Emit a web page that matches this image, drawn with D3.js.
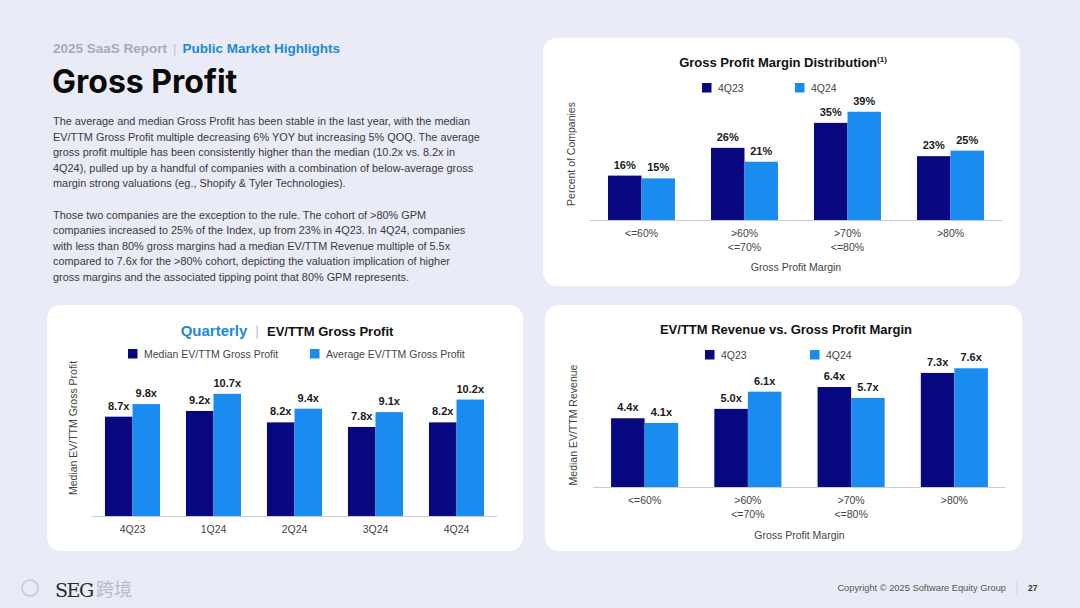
<!DOCTYPE html>
<html>
<head>
<meta charset="utf-8">
<script src="https://d3js.org/d3.v7.min.js"></script>
<style>
  body { margin: 0; background: #e9ebf6; }
  svg { display: block; font-family: "Liberation Sans", Arial, sans-serif; }
</style>
</head>
<body>
<script>
// ---- data ----
var marginCats = [["<=60%"], [">60%", "<=70%"], [">70%", "<=80%"], [">80%"]];
var distSeries = ["4Q23", "4Q24"];
var dist4Q23 = [16, 26, 35, 23];
var dist4Q24 = [15, 21, 39, 25];

var quarters = ["4Q23", "1Q24", "2Q24", "3Q24", "4Q24"];
var gpSeries = ["Median EV/TTM Gross Profit", "Average EV/TTM Gross Profit"];
var gpMedian = [8.7, 9.2, 8.2, 7.8, 8.2];
var gpAverage = [9.8, 10.7, 9.4, 9.1, 10.2];

var rev4Q23 = [4.4, 5.0, 6.4, 7.3];
var rev4Q24 = [4.1, 6.1, 5.7, 7.6];

var DARK = "#07077f", LIGHT = "#1b8cef";

var svg = d3.select("body").append("svg")
    .attr("width", 1080)
    .attr("height", 608)

svg.append("rect").attr("width", 1080).attr("height", 608).attr("fill", "#e9ebf6")

// ---- left text ----
var head = svg.append("text").attr("x", 53).attr("y", 53)
    .attr("font-size", 13.5).attr("font-weight", "bold")
head.append("tspan").attr("fill", "#a3abc0").text("2025 SaaS Report")
head.append("tspan").attr("fill", "#c3c8d8").attr("font-weight", "normal").attr("dx", 6).text("|")
head.append("tspan").attr("fill", "#1e88d8").attr("dx", 6).text("Public Market Highlights")

svg.append("text").attr("x", 52).attr("y", 93)
    .attr("font-size", 32).attr("font-weight", "bold").attr("fill", "#0b0b0b")
    .attr("font-family", "Inter, 'Liberation Sans', sans-serif")
    .text("Gross Profit")

var para = [
  "The average and median Gross Profit has been stable in the last year, with the median",
  "EV/TTM Gross Profit multiple decreasing 6% YOY but increasing 5% QOQ. The average",
  "gross profit multiple has been consistently higher than the median (10.2x vs. 8.2x in",
  "4Q24), pulled up by a handful of companies with a combination of below-average gross",
  "margin strong valuations (eg., Shopify & Tyler Technologies).",
  "",
  "Those two companies are the exception to the rule. The cohort of >80% GPM",
  "companies increased to 25% of the Index, up from 23% in 4Q23. In 4Q24, companies",
  "with less than 80% gross margins had a median EV/TTM Revenue multiple of 5.5x",
  "compared to 7.6x for the >80% cohort, depicting the valuation implication of higher",
  "gross margins and the associated tipping point that 80% GPM represents."
];
svg.selectAll("text.para").data(para).enter().append("text")
    .attr("class", "para")
    .attr("x", 53)
    .attr("y", function(d, i) { return 125 + i * 15.6; })
    .attr("font-size", 10.9).attr("fill", "#3a3a3a")
    .text(function(d) { return d; })

// ---- panels ----
var panels = [[543, 38, 477, 248], [47, 305, 476, 246], [545, 305, 477, 246]];
svg.selectAll("rect.panel").data(panels).enter().append("rect")
    .attr("class", "panel")
    .attr("x", function(d) { return d[0]; })
    .attr("y", function(d) { return d[1]; })
    .attr("width", function(d) { return d[2]; })
    .attr("height", function(d) { return d[3]; })
    .attr("rx", 14).attr("fill", "#ffffff")

// ---- generic grouped bar chart ----
function barChart(o) {
  var g = svg.append("g");
  var x0 = d3.scaleBand().domain(d3.range(o.cats.length)).range([o.x0, o.x1]).paddingInner(o.pad).paddingOuter(o.pad / 2);
  var x1 = d3.scaleBand().domain([0, 1]).range([0, x0.bandwidth()]);
  var y = d3.scaleLinear().domain([0, o.ymax]).range([o.base, o.top]);

  var rows = o.cats.map(function(c, i) { return { i: i, v: [o.a[i], o.b[i]] }; });
  var grp = g.selectAll("g.grp").data(rows).enter().append("g")
      .attr("transform", function(d) { return "translate(" + x0(d.i) + ",0)"; });
  grp.selectAll("rect").data(function(d) { return d.v; }).enter().append("rect")
      .attr("x", function(d, j) { return x1(j); })
      .attr("y", function(d) { return y(d); })
      .attr("width", x1.bandwidth())
      .attr("height", function(d) { return o.base - y(d); })
      .attr("fill", function(d, j) { return j == 0 ? DARK : LIGHT; })
  grp.selectAll("text").data(function(d) { return d.v; }).enter().append("text")
      .attr("x", function(d, j) { return x1(j) + x1.bandwidth() / 2; })
      .attr("y", function(d) { return y(d) - 7; })
      .attr("text-anchor", "middle").attr("font-size", 11).attr("font-weight", "bold").attr("fill", "#1a1a1a")
      .text(o.fmt)

  // axis line
  g.append("line").attr("x1", o.x0).attr("x2", o.x1).attr("y1", o.base + 0.5).attr("y2", o.base + 0.5)
      .attr("stroke", "#c9ccd6").attr("stroke-width", 1.2)
  var ax = g.append("g").attr("transform", "translate(0," + o.base + ")")
      .call(d3.axisBottom(x0).tickSize(0).tickFormat(""));
  ax.select(".domain").remove();
  ax.selectAll(".tick").each(function(i) {
    var t = d3.select(this).append("text").attr("fill", "#444").attr("font-size", 10.5)
        .attr("text-anchor", "middle").attr("y", 17);
    [].concat(o.cats[i]).forEach(function(s, k) {
      t.append("tspan").attr("x", 0).attr("dy", k == 0 ? 0 : 14).text(s);
    });
  });

  // title
  if (o.titleFn) o.titleFn(g); else
    g.append("text").attr("x", o.tx).attr("y", o.ty).attr("text-anchor", "middle")
      .attr("font-size", 13).attr("font-weight", "bold").attr("fill", "#111").text(o.title)

  // legend
  o.legend.forEach(function(l, j) {
    g.append("rect").attr("x", l[0]).attr("y", o.ly - 5).attr("width", 9.5).attr("height", 9.5)
        .attr("fill", j == 0 ? DARK : LIGHT)
    g.append("text").attr("x", l[0] + 16).attr("y", o.ly + 4).attr("font-size", 10.5).attr("fill", "#444").text(l[1])
  });

  // y title
  g.append("text").attr("transform", "translate(" + o.yx + "," + o.yy + ") rotate(-90)")
      .attr("text-anchor", "middle").attr("font-size", 10.5).attr("fill", "#444").text(o.ytitle)
  if (o.xtitle)
    g.append("text").attr("x", (o.x0 + o.x1) / 2).attr("y", o.xty).attr("text-anchor", "middle")
      .attr("font-size", 10.5).attr("fill", "#444").text(o.xtitle)
}

barChart({
  cats: marginCats, a: dist4Q23, b: dist4Q24, x0: 590, x1: 1002, pad: 0.35,
  base: 220, top: 109, ymax: 40, fmt: function(d) { return d + "%"; },
  titleFn: function(g) {
    var t = g.append("text").attr("x", 783).attr("y", 67).attr("text-anchor", "middle")
        .attr("font-size", 13).attr("font-weight", "bold").attr("fill", "#111");
    t.append("tspan").text("Gross Profit Margin Distribution");
    t.append("tspan").attr("font-size", 8).attr("dy", -5).text("(1)");
  },
  ly: 88, legend: [[702, distSeries[0]], [795, distSeries[1]]],
  yx: 575, yy: 154, ytitle: "Percent of Companies",
  xtitle: "Gross Profit Margin", xty: 271
});

barChart({
  cats: quarters, a: gpMedian, b: gpAverage, x0: 92, x1: 497, pad: 0.32,
  base: 516, top: 379, ymax: 12, fmt: function(d) { return d.toFixed(1) + "x"; },
  titleFn: function(g) {
    var t = g.append("text").attr("x", 287).attr("y", 336).attr("text-anchor", "middle")
        .attr("font-weight", "bold");
    t.append("tspan").attr("fill", "#1e88d8").attr("font-size", 15).text("Quarterly");
    t.append("tspan").attr("fill", "#c3c8d8").attr("font-weight", "normal").attr("font-size", 14).attr("dx", 8).text("|");
    t.append("tspan").attr("fill", "#111").attr("font-size", 13).attr("dx", 8).text("EV/TTM Gross Profit");
  },
  ly: 354, legend: [[128, gpSeries[0]], [310, gpSeries[1]]],
  yx: 77, yy: 428, ytitle: "Median EV/TTM Gross Profit"
});

barChart({
  cats: marginCats, a: rev4Q23, b: rev4Q24, x0: 593, x1: 1006, pad: 0.35,
  base: 487, top: 362, ymax: 8, fmt: function(d) { return d.toFixed(1) + "x"; },
  tx: 786, ty: 334, title: "EV/TTM Revenue vs. Gross Profit Margin",
  ly: 355, legend: [[705, distSeries[0]], [810, distSeries[1]]],
  yx: 577, yy: 425, ytitle: "Median EV/TTM Revenue",
  xtitle: "Gross Profit Margin", xty: 539
});

// ---- footer ----
svg.append("text").attr("x", 1006).attr("y", 591).attr("text-anchor", "end")
    .attr("font-size", 9.3).attr("fill", "#555").text("Copyright © 2025 Software Equity Group")
svg.append("line").attr("x1", 1017).attr("x2", 1017).attr("y1", 580).attr("y2", 596).attr("stroke", "#cfd3e0")
svg.append("text").attr("x", 1028).attr("y", 591)
    .attr("font-size", 8.5).attr("font-weight", "bold").attr("fill", "#333").text("27")

svg.append("text").attr("x", 55).attr("y", 597)
    .attr("font-size", 19).attr("font-family", "'DejaVu Serif', serif").attr("fill", "#2a2a2a").attr("letter-spacing", -1.5).text("SEG")
svg.append("text").attr("x", 96).attr("y", 596)
    .attr("font-size", 18).attr("font-family", "'Noto Sans CJK SC', sans-serif").attr("fill", "#b8bccb").text("跨境")
svg.append("circle").attr("cx", 30).attr("cy", 588).attr("r", 8).attr("fill", "none").attr("stroke", "#c4c8d6").attr("stroke-width", 1.5)
</script>
</body>
</html>
